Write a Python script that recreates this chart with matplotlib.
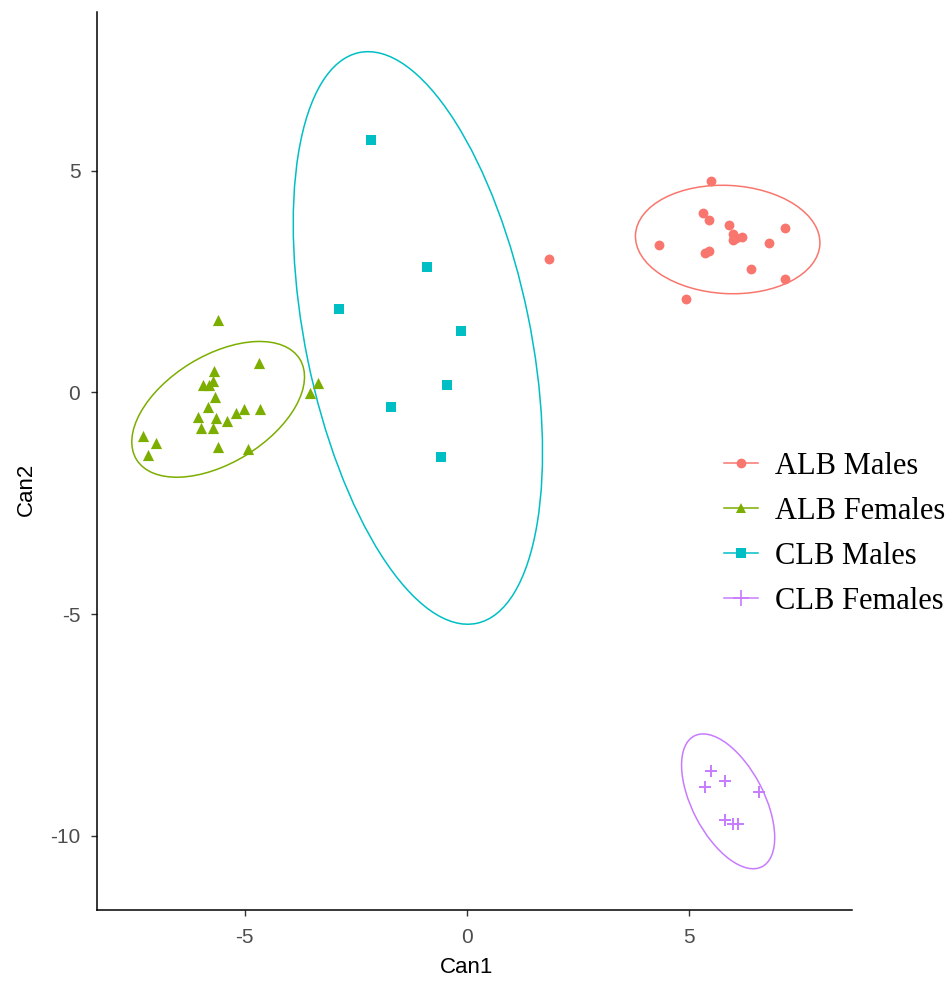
import numpy as np
import matplotlib
matplotlib.use("Agg")
import matplotlib.pyplot as plt
from matplotlib.patches import Ellipse
from matplotlib.lines import Line2D

plt.rcParams['axes.unicode_minus'] = False

# ---- data --------------------------------------------------------------------

groups = ["ALB Males", "ALB Females", "CLB Males", "CLB Females"]
colours = ["#F8766D", "#7CAE00", "#00BFC4", "#C77CFF"]
markers = ["o", "^", "s", "+"]

alb_m_x = [5.51, 5.32, 5.46, 5.91, 6.00, 6.07, 6.21, 6.00, 7.18, 4.33, 6.81,
           5.36, 5.46, 6.41, 7.18, 4.93, 1.85]
alb_m_y = [4.76, 4.05, 3.90, 3.78, 3.57, 3.48, 3.50, 3.44, 3.72, 3.33, 3.37,
           3.14, 3.18, 2.79, 2.56, 2.11, 3.00]

alb_f_x = [-5.61, -4.68, -5.70, -5.71, -5.94, -5.80, -5.66, -5.83, -6.05, -5.64,
           -5.40, -5.19, -5.02, -4.66, -5.99, -5.71, -7.29, -7.01, -7.19, -5.61,
           -4.93, -3.35, -3.52]
alb_f_y = [1.64, 0.66, 0.48, 0.27, 0.16, 0.16, -0.11, -0.33, -0.56, -0.57,
           -0.65, -0.47, -0.37, -0.37, -0.80, -0.80, -0.99, -1.14, -1.40, -1.22,
           -1.27, 0.21, -0.02]

clb_m_x = [-2.16, -0.89, -2.88, -0.13, -0.44, -1.70, -0.58]
clb_m_y = [5.70, 2.82, 1.88, 1.38, 0.16, -0.32, -1.46]

clb_f_x = [5.51, 5.83, 5.38, 6.58, 5.81, 6.01, 6.11]
clb_f_y = [-8.53, -8.76, -8.90, -9.02, -9.65, -9.73, -9.74]

# ellipse (centre x, centre y, full width, full height, angle in degrees)
ell_cx = [5.88, -5.60, -1.10, 5.89]
ell_cy = [3.45, -0.38, 1.23, -9.22]
ell_w = [4.16, 4.32, 13.14, 3.32]
ell_h = [2.44, 2.42, 5.06, 1.62]
ell_ang = [-3.0, 31.6, 101.6, 117.4]

xs = [alb_m_x, alb_f_x, clb_m_x, clb_f_x]
ys = [alb_m_y, alb_f_y, clb_m_y, clb_f_y]
sizes = [50, 65, 45, 85]

# ---- plot --------------------------------------------------------------------

fig = plt.figure(figsize=(9.48, 9.86), dpi=100)
ax = fig.add_axes([0.1023, 0.0771, 0.7964, 0.9107])

for i in range(4):
    ax.add_patch(Ellipse((ell_cx[i], ell_cy[i]), ell_w[i], ell_h[i],
                         angle=ell_ang[i], fill=False,
                         edgecolor=colours[i], linewidth=1.1))
    if markers[i] == "+":
        ax.scatter(xs[i], ys[i], s=sizes[i], marker="+", color=colours[i],
                   linewidths=1.4, zorder=3)
    else:
        ax.scatter(xs[i], ys[i], s=sizes[i], marker=markers[i],
                   color=colours[i], linewidths=0, zorder=3)

ax.set_xlim(-8.33, 8.68)
ax.set_ylim(-11.67, 8.58)
ax.set_xticks([-5, 0, 5])
ax.set_yticks([-10, -5, 0, 5])

for s in ["top", "right"]:
    ax.spines[s].set_visible(False)
for s in ["left", "bottom"]:
    ax.spines[s].set_linewidth(1.1)
    ax.spines[s].set_color("black")

ax.tick_params(direction="out", length=4, width=1.0, color="#333333",
               labelsize=15, labelcolor="#4D4D4D")
ax.tick_params(axis="x", pad=9)
ax.tick_params(axis="y", pad=8)
for lab in ax.get_xticklabels() + ax.get_yticklabels():
    lab.set_family("Liberation Sans")

ax.set_xlabel("Can1", fontsize=16, family="Liberation Sans")
ax.set_ylabel("Can2", fontsize=16, family="Liberation Sans")
ax.xaxis.set_label_coords(0.49, -0.052)
ax.yaxis.set_label_coords(-0.08, 0.468)

handles = []
for i in range(4):
    handles.append(Line2D([0], [0], color=colours[i], marker=markers[i],
                          markersize=7 if markers[i] != "+" else 12,
                          markeredgewidth=0 if markers[i] != "+" else 1.2,
                          linewidth=1.1))

fig.legend(handles, groups, loc="center left",
           bbox_to_anchor=(0.735, 0.4585), frameon=False,
           prop={"family": "Liberation Serif", "size": 22},
           handlelength=1.1, handletextpad=0.55, labelspacing=0.52)

fig.savefig("out.png", dpi=100)
